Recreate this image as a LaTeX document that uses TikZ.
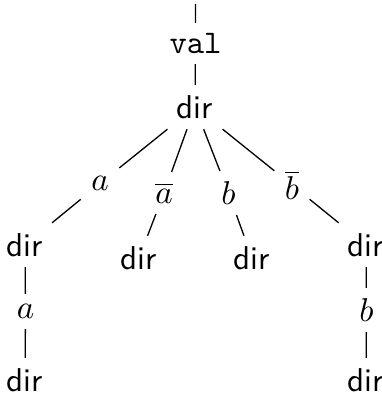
\documentclass[tikz,border=0pt]{standalone}
\usepackage{amsmath, amssymb}
\usepackage{tikz}

\begin{document}
\begin{tikzpicture}[x=0.303pt, y=-0.303pt, inner sep=3pt]
\tikzstyle{word}=[font=\sffamily]
\tikzstyle{lbl}=[]
\useasboundingbox (0,0) rectangle (382,398);
\coordinate (top) at (195.5,4);
\node[font=\ttfamily] (val) at (195.5,43.5) {val};
\node[word] (root) at (195,107) {dir};
\node[lbl] (la) at (100,183.5) {$a$};
\node[lbl] (lna) at (164,193) {$\overline{a}$};
\node[lbl] (lb) at (228.5,193) {$b$};
\node[lbl] (lnb) at (292,185) {$\overline{b}$};
\node[word] (d1) at (25,245) {dir};
\node[word] (d2) at (139,258) {dir};
\node[word] (d3) at (252,258) {dir};
\node[word] (d4) at (366,245) {dir};
\node[lbl] (la2) at (25.5,311.5) {$a$};
\node[lbl] (lb2) at (366.5,310) {$b$};
\node[word] (d5) at (25,380) {dir};
\node[word] (d6) at (366,380) {dir};
\draw (top) -- (val) -- (root);
\draw (root) -- (la) -- (d1) -- (la2) -- (d5);
\draw (root) -- (lna) -- (d2);
\draw (root) -- (lb) -- (d3);
\draw (root) -- (lnb) -- (d4) -- (lb2) -- (d6);
\end{tikzpicture}
\end{document}
